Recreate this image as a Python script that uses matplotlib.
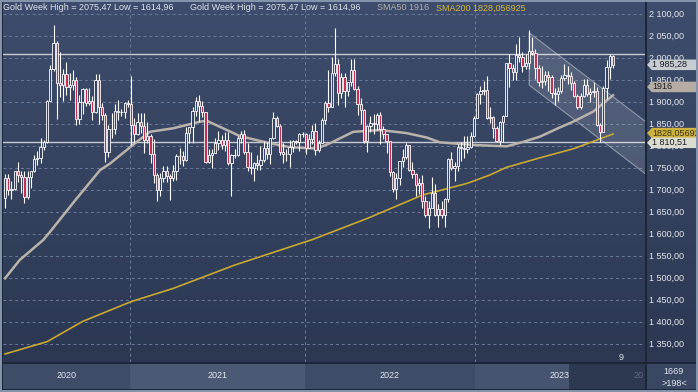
import matplotlib
matplotlib.use("Agg")
import matplotlib.pyplot as plt
import numpy as np
from matplotlib.patches import Rectangle, Polygon
from matplotlib.transforms import blended_transform_factory
from matplotlib.colors import LinearSegmentedColormap

plt.rcParams['font.family'] = ['Liberation Sans', 'DejaVu Sans']

# weekly gold candles, Apr 2020 .. Oct 2023
opens = [1683, 1729, 1700, 1702, 1743, 1735, 1730, 1684, 1730, 1743, 1771, 1774, 1798, 1810, 1902, 1975, 2035, 1944, 1940, 1964,
         1934, 1940, 1950, 1861, 1900, 1930, 1899, 1902, 1879, 1951, 1889, 1871, 1788, 1839, 1839, 1881, 1877, 1878, 1898, 1896,
         1849, 1828, 1855, 1847, 1814, 1823, 1783, 1734, 1700, 1727, 1745, 1733, 1729, 1744, 1777, 1778, 1769, 1831, 1843, 1881,
         1903, 1891, 1877, 1764, 1781, 1784, 1808, 1815, 1802, 1814, 1763, 1780, 1781, 1818, 1827, 1787, 1754, 1750, 1761, 1757,
         1768, 1796, 1783, 1818, 1865, 1846, 1788, 1783, 1782, 1798, 1811, 1810, 1829, 1828, 1797, 1817, 1835, 1791, 1808, 1859,
         1898, 1889, 1966, 1988, 1921, 1958, 1925, 1947, 1974, 1931, 1896, 1883, 1811, 1846, 1853, 1851, 1871, 1840, 1827, 1811,
         1742, 1703, 1727, 1766, 1775, 1802, 1747, 1738, 1712, 1716, 1675, 1644, 1660, 1695, 1644, 1657, 1645, 1681, 1771, 1751,
         1755, 1798, 1797, 1793, 1798, 1824, 1865, 1920, 1926, 1928, 1865, 1866, 1842, 1811, 1856, 1868, 1989, 1978, 1969, 2007,
         2004, 1983, 1990, 2017, 2011, 1977, 1946, 1948, 1961, 1958, 1921, 1919, 1925, 1955, 1962, 1959, 1943, 1914, 1889, 1915,
         1940, 1919, 1924, 1925, 1848, 1833, 1932, 1981, 2006]
highs = [1738, 1738, 1722, 1744, 1765, 1744, 1745, 1745, 1745, 1780, 1789, 1818, 1815, 1906, 1984, 2075.47, 2039, 2015, 1976, 1992,
         1966, 1973, 1957, 1917, 1933, 1933, 1932, 1914, 1965, 1965, 1898, 1875, 1848, 1875, 1896, 1906, 1885, 1901, 1905, 1959,
         1864, 1876, 1875, 1875, 1855, 1827, 1816, 1739, 1740, 1755, 1756, 1738, 1758, 1783, 1797, 1790, 1843, 1845, 1890, 1912,
         1916, 1903, 1877, 1795, 1795, 1818, 1834, 1825, 1832, 1833, 1783, 1795, 1823, 1834, 1836, 1808, 1787, 1765, 1781, 1801,
         1813, 1810, 1818, 1877, 1870, 1850, 1808, 1793, 1815, 1815, 1815, 1831, 1832, 1831, 1829, 1848, 1854, 1815, 1865, 1902,
         1974, 2002, 2070, 1999, 1966, 1966, 1945, 1998, 1998, 1936, 1909, 1884, 1849, 1870, 1874, 1875, 1879, 1847, 1829, 1813,
         1745, 1739, 1767, 1795, 1807, 1802, 1765, 1740, 1729, 1735, 1688, 1675, 1730, 1714, 1669, 1675, 1682, 1774, 1787, 1765,
         1805, 1810, 1824, 1824, 1833, 1870, 1921, 1938, 1949, 1959, 1890, 1869, 1847, 1858, 1871, 1989, 2009, 1988, 2032, 2048,
         2015, 2009, 2064, 2048, 2022, 1985, 1983, 1971, 1971, 1963, 1933, 1935, 1963, 1987, 1982, 1970, 1948, 1918, 1922, 1953,
         1953, 1933, 1947, 1935, 1853, 1938, 1997, 2010, 2008]
lows = [1659, 1690, 1681, 1700, 1718, 1694, 1671, 1680, 1705, 1742, 1757, 1763, 1791, 1807, 1902, 1971, 1863, 1911, 1903, 1916,
        1906, 1929, 1848, 1851, 1873, 1891, 1894, 1860, 1875, 1850, 1860, 1764, 1775, 1820, 1828, 1860, 1868, 1865, 1890, 1803,
        1808, 1826, 1831, 1785, 1807, 1761, 1717, 1676, 1687, 1718, 1718, 1677, 1721, 1724, 1760, 1756, 1766, 1808, 1808, 1870,
        1855, 1866, 1761, 1763, 1750, 1784, 1791, 1794, 1790, 1757, 1687, 1773, 1778, 1807, 1782, 1745, 1737, 1721, 1746, 1746,
        1765, 1772, 1759, 1817, 1845, 1780, 1762, 1767, 1753, 1787, 1805, 1789, 1822, 1782, 1796, 1805, 1780, 1788, 1808, 1850,
        1878, 1889, 1960, 1895, 1910, 1890, 1915, 1938, 1929, 1872, 1850, 1807, 1786, 1833, 1828, 1837, 1805, 1816, 1785, 1732,
        1697, 1681, 1711, 1754, 1771, 1745, 1728, 1688, 1691, 1660, 1640, 1614.96, 1660, 1641, 1617, 1638, 1617, 1673, 1747, 1721,
        1745, 1766, 1773, 1784, 1796, 1822, 1865, 1896, 1916, 1861, 1852, 1819, 1809, 1804, 1809, 1868, 1934, 1950, 1950, 1991,
        1969, 1975, 1976, 2008, 1952, 1937, 1932, 1939, 1925, 1910, 1893, 1902, 1921, 1951, 1942, 1928, 1911, 1885, 1884, 1913,
        1915, 1901, 1913, 1846, 1810.51, 1833, 1908, 1953, 1979]
closes = [1729, 1700, 1702, 1743, 1735, 1730, 1684, 1730, 1743, 1771, 1774, 1798, 1810, 1902, 1975, 2035, 1944, 1940, 1964, 1934,
          1940, 1950, 1861, 1900, 1930, 1899, 1902, 1879, 1951, 1889, 1871, 1788, 1839, 1840, 1881, 1877, 1878, 1898, 1896, 1849,
          1828, 1855, 1847, 1814, 1823, 1783, 1734, 1700, 1727, 1745, 1733, 1729, 1744, 1777, 1778, 1769, 1831, 1843, 1881, 1903,
          1891, 1877, 1764, 1781, 1784, 1808, 1815, 1802, 1814, 1763, 1780, 1781, 1818, 1827, 1787, 1754, 1750, 1761, 1757, 1768,
          1796, 1783, 1818, 1865, 1846, 1788, 1783, 1782, 1798, 1811, 1810, 1829, 1828, 1797, 1817, 1835, 1791, 1808, 1859, 1898,
          1889, 1966, 1988, 1921, 1958, 1925, 1947, 1974, 1931, 1896, 1883, 1811, 1846, 1853, 1851, 1871, 1840, 1827, 1811, 1742,
          1703, 1727, 1766, 1775, 1802, 1747, 1738, 1712, 1716, 1675, 1644, 1660, 1695, 1644, 1657, 1645, 1681, 1771, 1751, 1755,
          1798, 1797, 1793, 1798, 1824, 1865, 1920, 1926, 1928, 1865, 1866, 1842, 1811, 1856, 1868, 1989, 1978, 1969, 2007, 2004,
          1983, 1990, 2017, 2011, 1977, 1946, 1948, 1961, 1958, 1921, 1919, 1925, 1955, 1962, 1959, 1943, 1914, 1889, 1915, 1940,
          1919, 1924, 1925, 1848, 1833, 1932, 1981, 2006, 1985.28]

# moving averages (bar index, value) as drawn
sma50_x = [0, 4.6, 11.8, 14.4, 22, 29.4, 32.5, 40.7, 44.8, 52, 60.3, 62.4, 68.6, 72.7, 81.9, 88.1, 96.4, 100.5, 107.7,
           116, 124.2, 130.4, 134.5, 144.8, 155.1, 160.2, 165.4, 171.6, 175.7, 181.9, 188]
sma50_y = [1500, 1542, 1587, 1610, 1680, 1746, 1761, 1810, 1833, 1841, 1856, 1858, 1837, 1823, 1807, 1798, 1795, 1807, 1833,
           1837, 1830, 1820, 1809, 1803, 1800, 1810, 1822, 1843, 1856, 1879, 1916]
sma200_x = [0, 13, 24, 39, 52, 71, 95, 112, 129, 143, 150, 155, 165, 176, 188]
sma200_y = [1328, 1356, 1402, 1447, 1477, 1530, 1588, 1636, 1689, 1716, 1735, 1752, 1773, 1795, 1828.06]

year_labels = ['2020', '2021', '2022', '2023']
year_edges = [-0.62, 38.5, 92.7, 145.2, 197.9]
channel_start = 162.1
channel_top = 2058
channel_bottom = 1939
channel_slope = -5.61
resistance = 2009
support = 1810.51

W, H = 698, 392
fig = plt.figure(figsize=(W / 100, H / 100), dpi=100)
fig.patch.set_facecolor('#8393ab')
fig.add_artist(Rectangle((2 / W, 2 / H), 694 / W, 388 / H, transform=fig.transFigure,
                         facecolor='#1d2538', edgecolor='none', zorder=-5))


def box(x0, y0, x1, y1):
    return [x0 / W, 1 - y1 / H, (x1 - x0) / W, (y1 - y0) / H]


grad = np.linspace(0, 1, 256).reshape(-1, 1)
bg_cmap = LinearSegmentedColormap.from_list('bg', ['#3e4d6d', '#2c3852'])

ymin, ymax = 1309.8, 2128
xmin, xmax = -0.62, 197.9

ax = fig.add_axes(box(3, 2, 645, 362))
ax.imshow(grad, extent=[0, 1, 0, 1], transform=ax.transAxes, aspect='auto', cmap=bg_cmap, zorder=0)
ax.set_xlim(xmin, xmax)
ax.set_ylim(ymin, ymax)
ax.set_axis_off()

for v in range(1350, 2101, 50):
    ax.axhline(v, color='#6b7b99', lw=0.7, ls=(0, (3, 3)), zorder=1)
for e in year_edges[1:]:
    ax.axvline(e, color='#6b7b99', lw=0.7, ls=(0, (3, 3)), zorder=1)

ax.axhline(resistance, color='#c9ccd3', lw=1.0, zorder=2)
ax.axhline(support, color='#c9ccd3', lw=1.0, zorder=2)

# descending channel
far = xmax + 5
chan = Polygon([(channel_start, channel_top), (far, channel_top + channel_slope * (far - channel_start)),
                (far, channel_bottom + channel_slope * (far - channel_start)), (channel_start, channel_bottom)],
               closed=True, facecolor=(1, 1, 1, 0.13), edgecolor=(0.85, 0.87, 0.9, 0.5), lw=0.8, zorder=2)
ax.add_patch(chan)

# candles
x = np.arange(len(opens))
o = np.array(opens, float)
c = np.array(closes, float)
hi = np.array(highs, float)
lo = np.array(lows, float)
top = np.maximum(o, c)
bot = np.minimum(o, c)
ax.vlines(x, top, hi, color='white', lw=0.8, zorder=4)
ax.vlines(x, lo, bot, color='white', lw=0.8, zorder=4)
face = ['#bb3453' if cc < oo else '#36445f' for oo, cc in zip(o, c)]
ax.bar(x, np.maximum(top - bot, 0.8), bottom=bot, width=0.7, color=face, edgecolor='white', linewidth=0.6, zorder=4)

ax.plot(sma200_x, sma200_y, color='#c9a933', lw=1.2, zorder=3, solid_joinstyle='round')
ax.plot(sma50_x, sma50_y, color='#b9b3ab', lw=1.8, zorder=3, solid_joinstyle='round')

# header texts
fig.text(3 / W, 1 - 8 / H, 'Gold Week High = 2075,47 Low = 1614,96', color='#dfe3ea', fontsize=6.5, va='center')
fig.text(190 / W, 1 - 8 / H, 'Gold Week High = 2075,47 Low = 1614,96', color='#dfe3ea', fontsize=6.5, va='center')
fig.text(377 / W, 1 - 8 / H, 'SMA50 1916', color='#b3b0ab', fontsize=6.5, va='center')
fig.text(436 / W, 1 - 8 / H, 'SMA200 1828,056925', color='#d7b83a', fontsize=6.5, va='center')
fig.text(621 / W, 1 - 357 / H, '9', color='#dfe3ea', fontsize=6.5, va='center', ha='center')

# right price scale
axr = fig.add_axes(box(647, 2, 696, 362))
axr.imshow(grad, extent=[0, 1, 0, 1], transform=axr.transAxes, aspect='auto', cmap=bg_cmap, zorder=0)
axr.set_xlim(0, 1)
axr.set_ylim(ymin, ymax)
axr.set_axis_off()
for v in range(1350, 2101, 50):
    lab = f'{v:,.2f}'.replace(',', ' ').replace('.', ',')
    axr.text(0.04, v, lab, color='#e3e7ee', fontsize=6.5, va='center', ha='left', zorder=2)

tr = blended_transform_factory(axr.transAxes, axr.transData)
tags = [(1935, '1916', '#b5ada3', '#1c1c24'),
        (1830, '1828,056925', '#cdb23f', '#3a3210'),
        (1985.28, '1 985,28', '#c7cbd2', '#1c1c24'),
        (1808, '1 810,51', '#dadccf', '#1c1c24')]
hh = 12
for yv, txt, fc, tc in tags:
    poly = Polygon([(0.0, yv), (0.1, yv + hh), (1.0, yv + hh), (1.0, yv - hh), (0.1, yv - hh)], closed=True,
                   transform=tr, facecolor=fc, edgecolor='none', zorder=3, clip_on=False)
    axr.add_patch(poly)
    axr.text(0.1, yv, txt, transform=tr, color=tc, fontsize=6.5, va='center', ha='left', zorder=4, clip_on=True)

# year strip
axb = fig.add_axes(box(3, 364, 645, 389))
axb.set_xlim(xmin, xmax)
axb.set_ylim(0, 1)
axb.set_axis_off()
band_cols = ['#3e4c68', '#4b5975', '#3e4c68', '#46546f']
for i, lab in enumerate(year_labels):
    a, b = year_edges[i], year_edges[i + 1]
    axb.axvspan(a, b, color=band_cols[i], lw=0)
    axb.text((a + b) / 2, 0.55, lab, color='#e3e7ee', fontsize=6.5, ha='center', va='center')
axb.axvspan(174.4, xmax, color='#2d3951', lw=0)
axb.text(xmax - 0.5, 0.55, '20', color='#5d6a84', fontsize=6.5, ha='right', va='center')

axc = fig.add_axes(box(647, 364, 696, 389))
axc.set_axis_off()
axc.add_patch(Rectangle((0, 0), 1, 1, transform=axc.transAxes, facecolor='#3a4763', edgecolor='none'))
axc.text(0.55, 0.68, '1669', color='#e3e7ee', fontsize=6.5, ha='center', va='center', transform=axc.transAxes)
axc.text(0.55, 0.2, '>198<', color='#e3e7ee', fontsize=6.5, ha='center', va='center', transform=axc.transAxes)

fig.savefig('out.png', dpi=100, facecolor=fig.get_facecolor())
